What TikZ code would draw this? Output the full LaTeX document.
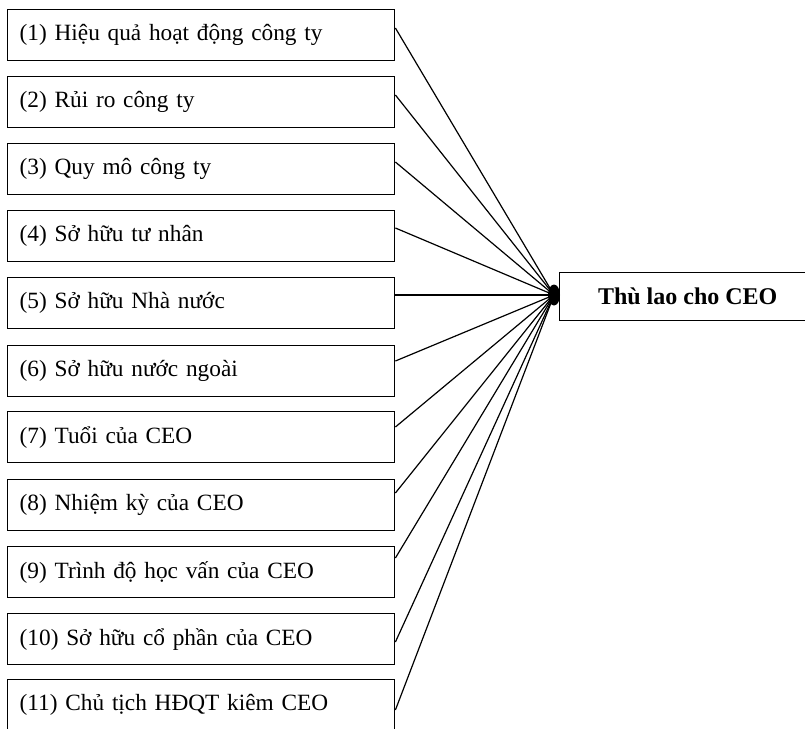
\documentclass[tikz,border=0pt]{standalone}
\usepackage{fontspec}
\setmainfont{Liberation Serif}
\usetikzlibrary{shapes.geometric}
\tikzset{
  factor/.style={draw, line width=1.4pt, rectangle, minimum width=387pt, minimum height=51pt,
    text width=363pt, inner xsep=12pt, inner ysep=0pt, align=left, anchor=north west,
    font=\fontsize{23.3}{28}\selectfont},
  target/.style={draw, line width=1.4pt, rectangle, minimum width=256pt, minimum height=48pt,
    inner sep=0pt, anchor=north west, font=\fontsize{24}{28}\selectfont\bfseries},
  link/.style={line width=1.2pt},
  hubdot/.style={ellipse, fill=black, minimum width=12pt, minimum height=21pt, inner sep=0pt}
}
\begin{document}
\begin{tikzpicture}[x=1pt,y=-1pt]
\useasboundingbox (0,0) rectangle (805,728);
\clip (0,0) rectangle (805,728);
\node[factor] (b1)  at (7,9)   {\raisebox{1pt}{(1) Hiệu quả hoạt động công ty}};
\node[factor] (b2)  at (7,76)  {\raisebox{3pt}{(2) Rủi ro công ty}};
\node[factor] (b3)  at (7,143) {\raisebox{2pt}{(3) Quy mô công ty}};
\node[factor] (b4)  at (7,210) {\raisebox{2pt}{(4) Sở hữu tư nhân}};
\node[factor] (b5)  at (7,277) {\raisebox{2pt}{(5) Sở hữu Nhà nước}};
\node[factor] (b6)  at (7,345) {\raisebox{2pt}{(6) Sở hữu nước ngoài}};
\node[factor] (b7)  at (7,411) {\raisebox{2pt}{(7) Tuổi của CEO}};
\node[factor] (b8)  at (7,479) {\raisebox{2pt}{(8) Nhiệm kỳ của CEO}};
\node[factor] (b9)  at (7,546) {\raisebox{4pt}{(9) Trình độ học vấn của CEO}};
\node[factor] (b10) at (7,613) {\raisebox{2pt}{(10) Sở hữu cổ phần của CEO}};
\node[factor] (b11) at (7,679) {\raisebox{2pt}{(11) Chủ tịch HĐQT kiêm CEO}};
\node[target] (ceo) at (559,272) {Thù lao cho CEO};
\coordinate (h) at (554,295);
\draw[link] (b1.north east)  ++(0,19) -- (h);
\draw[link] (b2.north east)  ++(0,19) -- (h);
\draw[link] (b3.north east)  ++(0,19) -- (h);
\draw[link] (b4.north east)  ++(0,18) -- (h);
\draw[link] (b5.north east)  ++(0,18) -- (h);
\draw[link] (b6.north east)  ++(0,16) -- (h);
\draw[link] (b7.north east)  ++(0,16) -- (h);
\draw[link] (b8.north east)  ++(0,14) -- (h);
\draw[link] (b9.north east)  ++(0,12) -- (h);
\draw[link] (b10.north east) ++(0,29) -- (h);
\draw[link] (b11.north east) ++(0,31) -- (h);
\node[hubdot] (hub) at (h) {};
\end{tikzpicture}
\end{document}
